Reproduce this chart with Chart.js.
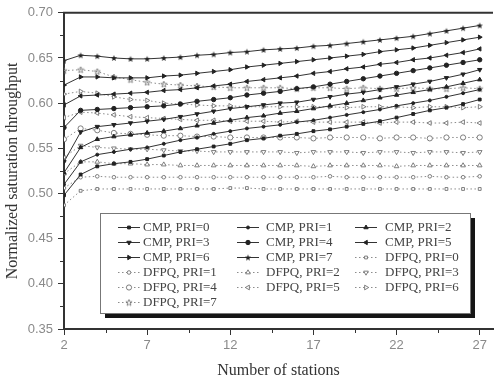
<!DOCTYPE html>
<html>
<head>
<meta charset="utf-8">
<script src="https://cdn.jsdelivr.net/npm/chart.js@4"></script>
<style>
  html, body { margin: 0; padding: 0; background: #fff; }
</style>
</head>
<body>
<canvas id="c" width="498" height="380"></canvas>
<script>
const stations = [2, 3, 4, 5, 6, 7, 8, 9, 10, 11, 12, 13, 14, 15, 16, 17, 18, 19, 20, 21, 22, 23, 24, 25, 26, 27]
const xTicks = [2, 7, 12, 17, 22, 27]
const xMinorTicks = [4.5, 9.5, 14.5, 19.5, 24.5]
const yTicks = [0.35, 0.40, 0.45, 0.50, 0.55, 0.60, 0.65, 0.70]
const yMinorTicks = [0.375, 0.425, 0.475, 0.525, 0.575, 0.625, 0.675]

const cmpPri0 = [0.498, 0.521, 0.530, 0.533, 0.535, 0.538, 0.542, 0.546, 0.549, 0.552, 0.555, 0.559, 0.561, 0.564, 0.566, 0.569, 0.571, 0.574, 0.577, 0.580, 0.584, 0.588, 0.592, 0.595, 0.599, 0.604]
const cmpPri1 = [0.510, 0.535, 0.543, 0.546, 0.549, 0.551, 0.555, 0.559, 0.562, 0.566, 0.569, 0.572, 0.574, 0.576, 0.579, 0.581, 0.584, 0.587, 0.590, 0.593, 0.597, 0.600, 0.603, 0.607, 0.611, 0.615]
const cmpPri2 = [0.523, 0.551, 0.560, 0.563, 0.565, 0.567, 0.569, 0.572, 0.575, 0.578, 0.581, 0.584, 0.586, 0.589, 0.591, 0.594, 0.597, 0.600, 0.603, 0.606, 0.609, 0.612, 0.615, 0.618, 0.622, 0.626]
const cmpPri3 = [0.535, 0.568, 0.574, 0.576, 0.578, 0.580, 0.582, 0.585, 0.588, 0.591, 0.594, 0.596, 0.598, 0.600, 0.601, 0.604, 0.607, 0.610, 0.612, 0.615, 0.618, 0.621, 0.624, 0.628, 0.632, 0.637]
const cmpPri4 = [0.573, 0.592, 0.593, 0.594, 0.595, 0.596, 0.597, 0.599, 0.602, 0.604, 0.606, 0.609, 0.611, 0.613, 0.616, 0.618, 0.621, 0.624, 0.627, 0.630, 0.633, 0.636, 0.639, 0.642, 0.645, 0.648]
const cmpPri5 = [0.598, 0.608, 0.609, 0.610, 0.611, 0.612, 0.614, 0.615, 0.617, 0.619, 0.621, 0.624, 0.626, 0.628, 0.630, 0.633, 0.635, 0.638, 0.640, 0.643, 0.645, 0.648, 0.650, 0.653, 0.656, 0.660]
const cmpPri6 = [0.620, 0.629, 0.629, 0.628, 0.628, 0.628, 0.630, 0.631, 0.633, 0.635, 0.637, 0.640, 0.642, 0.644, 0.646, 0.648, 0.650, 0.652, 0.654, 0.657, 0.659, 0.661, 0.664, 0.667, 0.670, 0.673]
const cmpPri7 = [0.647, 0.653, 0.652, 0.650, 0.649, 0.649, 0.650, 0.651, 0.653, 0.654, 0.656, 0.657, 0.659, 0.660, 0.661, 0.663, 0.664, 0.666, 0.668, 0.670, 0.672, 0.674, 0.677, 0.680, 0.683, 0.686]

const dfpqPri0 = [0.487, 0.503, 0.505, 0.505, 0.505, 0.505, 0.505, 0.505, 0.505, 0.505, 0.506, 0.506, 0.505, 0.505, 0.505, 0.505, 0.505, 0.505, 0.505, 0.505, 0.505, 0.505, 0.505, 0.505, 0.505, 0.505]
const dfpqPri1 = [0.506, 0.518, 0.519, 0.518, 0.518, 0.518, 0.518, 0.518, 0.518, 0.518, 0.518, 0.518, 0.518, 0.518, 0.518, 0.518, 0.519, 0.518, 0.518, 0.518, 0.518, 0.518, 0.519, 0.518, 0.518, 0.519]
const dfpqPri2 = [0.522, 0.535, 0.535, 0.533, 0.533, 0.532, 0.532, 0.531, 0.531, 0.531, 0.531, 0.531, 0.531, 0.531, 0.531, 0.530, 0.531, 0.531, 0.531, 0.531, 0.530, 0.531, 0.531, 0.531, 0.531, 0.531]
const dfpqPri3 = [0.540, 0.553, 0.551, 0.550, 0.549, 0.549, 0.548, 0.547, 0.547, 0.546, 0.546, 0.546, 0.546, 0.546, 0.545, 0.546, 0.546, 0.546, 0.545, 0.546, 0.546, 0.545, 0.546, 0.546, 0.545, 0.546]
const dfpqPri4 = [0.560, 0.572, 0.570, 0.567, 0.566, 0.565, 0.564, 0.564, 0.563, 0.563, 0.562, 0.562, 0.562, 0.562, 0.562, 0.561, 0.562, 0.562, 0.562, 0.561, 0.562, 0.562, 0.561, 0.562, 0.562, 0.562]
const dfpqPri5 = [0.584, 0.590, 0.589, 0.587, 0.585, 0.584, 0.583, 0.582, 0.581, 0.581, 0.580, 0.580, 0.580, 0.579, 0.580, 0.579, 0.579, 0.579, 0.579, 0.578, 0.579, 0.579, 0.578, 0.578, 0.579, 0.578]
const dfpqPri6 = [0.610, 0.613, 0.611, 0.607, 0.604, 0.603, 0.600, 0.599, 0.598, 0.597, 0.597, 0.596, 0.596, 0.596, 0.596, 0.596, 0.596, 0.595, 0.596, 0.596, 0.596, 0.595, 0.596, 0.596, 0.595, 0.596]
const dfpqPri7 = [0.636, 0.637, 0.635, 0.629, 0.626, 0.623, 0.621, 0.620, 0.619, 0.618, 0.617, 0.617, 0.617, 0.617, 0.616, 0.617, 0.617, 0.616, 0.617, 0.616, 0.616, 0.617, 0.616, 0.616, 0.617, 0.616]

const cmpSeries = [cmpPri0, cmpPri1, cmpPri2, cmpPri3, cmpPri4, cmpPri5, cmpPri6, cmpPri7]
const dfpqSeries = [dfpqPri0, dfpqPri1, dfpqPri2, dfpqPri3, dfpqPri4, dfpqPri5, dfpqPri6, dfpqPri7]

// small star markers, the built-in 'star' is only an asterisk
function starMarker(filled, color) {
  const c = document.createElement("canvas")
  c.width = 8
  c.height = 8
  const g = c.getContext("2d")
  g.beginPath()
  for (let i = 0; i < 10; i++) {
    const r = i % 2 ? 1.4 : 3.3
    const a = -Math.PI / 2 + i * Math.PI / 5
    g.lineTo(4 + r * Math.cos(a), 4.3 + r * Math.sin(a))
  }
  g.closePath()
  if (filled) {
    g.fillStyle = color
    g.fill()
  } else {
    g.strokeStyle = color
    g.lineWidth = 0.8
    g.stroke()
  }
  return c
}

const markerStyles = ["rect", "circle", "triangle", "triangle", "circle", "triangle", "triangle", null]
const markerRotation = [0, 0, 0, 180, 0, -90, 90, 0]
const cmpRadius = [2, 1.5, 2.5, 2.5, 2.2, 2.5, 2.5, 3]
const dfpqRadius = [2, 1.8, 2.7, 2.7, 2.6, 2.7, 2.7, 3]

const datasets = []
cmpSeries.forEach((vals, i) => {
  datasets.push({
    label: `CMP, PRI=${i}`,
    data: stations.map((s, j) => ({ x: s, y: vals[j] })),
    borderColor: "#333",
    borderWidth: 1,
    backgroundColor: "#222",
    pointBackgroundColor: "#222",
    pointBorderColor: "#222",
    pointBorderWidth: 1,
    pointStyle: markerStyles[i] || starMarker(true, "#222"),
    pointRotation: markerRotation[i],
    pointRadius: cmpRadius[i],
    tension: 0,
    clip: 0,
  })
})
dfpqSeries.forEach((vals, i) => {
  datasets.push({
    label: `DFPQ, PRI=${i}`,
    data: stations.map((s, j) => ({ x: s, y: vals[j] })),
    borderColor: "#8c8c8c",
    borderWidth: 1,
    borderDash: [1.5, 2.5],
    backgroundColor: "#fff",
    pointBackgroundColor: "#fff",
    pointBorderColor: "#707070",
    pointBorderWidth: 0.9,
    pointStyle: markerStyles[i] || starMarker(false, "#707070"),
    pointRotation: markerRotation[i],
    pointRadius: dfpqRadius[i],
    tension: 0,
    clip: 0,
  })
})

const legendOrder = [0, 1, 2, 3, 4, 5, 6, 7, 8, 9, 10, 11, 12, 13, 14, 15]

const frame = {
  id: "frame",
  afterDraw(chart) {
    const { ctx, chartArea: a, scales: { x, y } } = chart
    ctx.save()
    ctx.strokeStyle = "#333"
    ctx.lineWidth = 2
    ctx.beginPath()
    ctx.moveTo(a.left - 1, a.top)
    ctx.lineTo(a.right, a.top)
    ctx.stroke()
    ctx.lineWidth = 1
    ctx.beginPath()
    xMinorTicks.forEach(v => {
      const px = Math.round(x.getPixelForValue(v)) + 0.5
      ctx.moveTo(px, a.bottom)
      ctx.lineTo(px, a.bottom + 4)
    })
    yMinorTicks.forEach(v => {
      const py = Math.round(y.getPixelForValue(v)) + 0.5
      ctx.moveTo(a.left, py)
      ctx.lineTo(a.left - 4, py)
    })
    ctx.stroke()
    ctx.restore()
  },
}

const boxLegend = {
  id: "boxLegend",
  afterDraw(chart) {
    const ctx = chart.ctx
    const box = { x: 100, y: 213, w: 370, h: 100 }
    const colX = [118, 237, 355]
    const textX = [143, 266, 385]
    ctx.save()
    ctx.fillStyle = "#151515"
    ctx.fillRect(box.x + 5, box.y + 5, box.w, box.h)
    ctx.fillStyle = "#fff"
    ctx.fillRect(box.x, box.y, box.w, box.h)
    ctx.strokeStyle = "#777"
    ctx.lineWidth = 1
    ctx.strokeRect(box.x + 0.5, box.y + 0.5, box.w, box.h)

    ctx.font = "13px 'Liberation Serif', 'DejaVu Serif', serif"
    ctx.textBaseline = "middle"
    legendOrder.forEach((di, k) => {
      const ds = chart.data.datasets[di]
      const row = Math.floor(k / 3)
      const col = k % 3
      const cy = 227 + row * 15
      const lx = colX[col]
      ctx.strokeStyle = ds.borderColor
      ctx.lineWidth = 1
      ctx.setLineDash(ds.borderDash || [])
      ctx.beginPath()
      ctx.moveTo(lx, cy + 0.5)
      ctx.lineTo(lx + 22, cy + 0.5)
      ctx.stroke()
      ctx.setLineDash([])
      ctx.fillStyle = ds.pointBackgroundColor
      ctx.strokeStyle = ds.pointBorderColor
      ctx.lineWidth = ds.pointBorderWidth
      Chart.helpers.drawPoint(ctx, {
        pointStyle: ds.pointStyle,
        rotation: ds.pointRotation,
        radius: ds.pointRadius,
        borderWidth: ds.pointBorderWidth,
      }, lx + 11, cy + 0.5)
      ctx.fillStyle = "#444"
      ctx.fillText(ds.label, textX[col], cy + 1)
    })
    ctx.restore()
  },
}

new Chart(document.getElementById("c"), {
  type: "line",
  data: { datasets },
  plugins: [frame, boxLegend],
  options: {
    responsive: false,
    animation: false,
    layout: { padding: { top: 12, right: 0, left: 0, bottom: 0 } },
    plugins: { legend: { display: false }, tooltip: { enabled: false } },
    scales: {
      x: {
        type: "linear",
        min: 2,
        max: 27.8,
        afterBuildTicks: s => { s.ticks = xTicks.map(v => ({ value: v })) },
        afterFit: s => { s.height = 51 },
        grid: { drawOnChartArea: false, drawTicks: true, tickLength: 6, color: "#333", tickWidth: 1 },
        border: { display: true, color: "#333", width: 2 },
        ticks: {
          color: "#8a8a8a",
          font: { family: "'Liberation Sans', Arial, sans-serif", size: 13 },
          padding: 3,
          maxRotation: 0,
          autoSkip: false,
        },
        title: {
          display: true,
          text: "Number of stations",
          color: "#333",
          font: { family: "'Liberation Serif', serif", size: 16 },
          padding: { top: 0, bottom: 0 },
        },
      },
      y: {
        type: "linear",
        min: 0.35,
        max: 0.70,
        afterBuildTicks: s => { s.ticks = yTicks.map(v => ({ value: v })) },
        afterFit: s => { s.width = 64 },
        grid: { drawOnChartArea: false, drawTicks: true, tickLength: 6, color: "#333", tickWidth: 1 },
        border: { display: true, color: "#333", width: 2 },
        ticks: {
          color: "#8a8a8a",
          font: { family: "'Liberation Sans', Arial, sans-serif", size: 13 },
          padding: 5,
          callback: v => v.toFixed(2),
        },
        title: {
          display: true,
          text: "Normalized saturation throughput",
          color: "#333",
          font: { family: "'Liberation Serif', serif", size: 16 },
          padding: { top: 3, bottom: 0 },
        },
      },
    },
  },
})
</script>
</body>
</html>
